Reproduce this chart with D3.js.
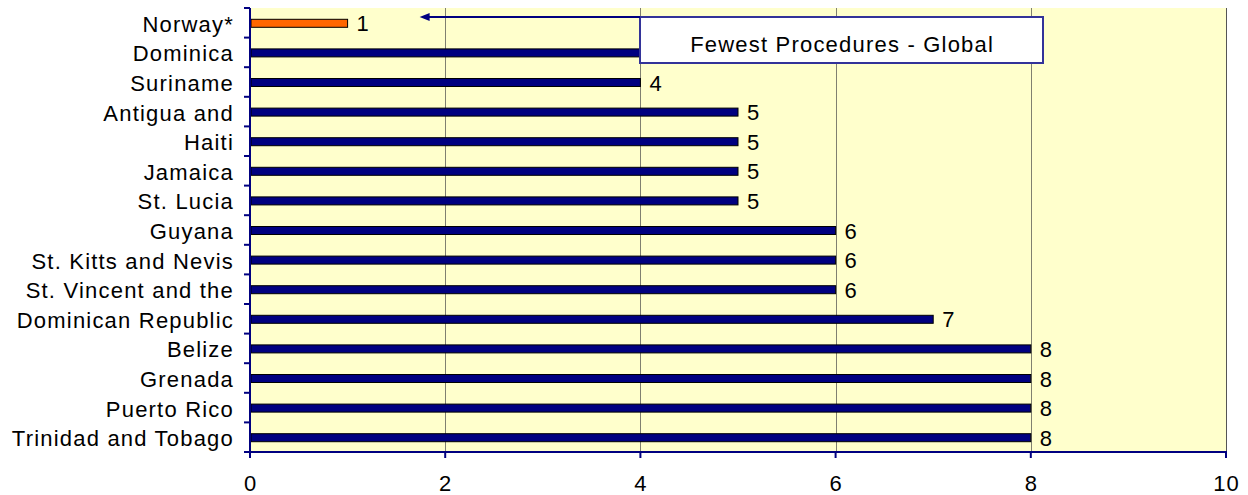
<!DOCTYPE html>
<html><head><meta charset="utf-8">
<script src="https://cdn.jsdelivr.net/npm/d3@7"></script>
<style>body{margin:0;background:#fff}svg{display:block}text{font-family:"Liberation Sans",Arial,sans-serif;}</style>
</head><body>
<script>
const countries = ["Norway*","Dominica","Suriname","Antigua and","Haiti","Jamaica","St. Lucia","Guyana","St. Kitts and Nevis","St. Vincent and the","Dominican Republic","Belize","Grenada","Puerto Rico","Trinidad and Tobago"];
const values = [1,4,4,5,5,5,5,6,6,6,7,8,8,8,8];
const xTicks = [0,2,4,6,8,10];
const highlight = "Norway*";
const annotation = "Fewest Procedures - Global";

const W=1248,H=495;
const m={left:250,right:22,top:8,bottom:43};
const svg=d3.select("body").append("svg").attr("width",W).attr("height",H);
const x=d3.scaleLinear().domain([0,10]).range([m.left,W-m.right]);
const y=d3.scaleBand().domain(countries).range([m.top,H-m.bottom]);
const FS=22, LS=1.2;

svg.append("rect").attr("x",x(0)).attr("y",m.top).attr("width",x(10)-x(0)).attr("height",y.range()[1]-m.top).attr("fill","#FFFFCC");
// grid
svg.append("g").selectAll("line").data(xTicks.filter(d=>d>0)).join("line")
 .attr("x1",d=>Math.round(x(d))+0.5).attr("x2",d=>Math.round(x(d))+0.5)
 .attr("y1",m.top).attr("y2",y.range()[1]).attr("stroke",d=>d===10?"#555":"#808070").attr("stroke-width",1);

// bars
const bh=8;
svg.append("g").selectAll("rect").data(countries).join("rect")
 .attr("x",x(0)+1).attr("y",d=>y(d)+y.bandwidth()/2-bh/2+0.5)
 .attr("width",(d,i)=>x(values[i])-x(0)-1).attr("height",bh)
 .attr("fill",d=>d===highlight?"#FF6600":"#000080")
 .attr("stroke","#000").attr("stroke-width",1);

// value labels
svg.append("g").selectAll("text").data(countries).join("text")
 .attr("x",(d,i)=>x(values[i])+9).attr("y",d=>y(d)+y.bandwidth()/2+8.5)
 .attr("font-size",FS).attr("letter-spacing",LS)
 .text((d,i)=>values[i]);

// y axis
const ya=svg.append("g").attr("transform",`translate(${x(0)},0)`);
ya.append("line").attr("x1",0).attr("x2",0).attr("y1",m.top).attr("y2",y.range()[1]+4).attr("stroke","#000080").attr("stroke-width",2);
ya.selectAll("line.t").data(d3.range(countries.length+1)).join("line").attr("class","t")
 .attr("x1",-6).attr("x2",0).attr("y1",i=>m.top+i*y.step()).attr("y2",i=>m.top+i*y.step()).attr("stroke","#000080").attr("stroke-width",2);
ya.selectAll("text").data(countries).join("text")
 .attr("x",-16).attr("y",d=>y(d)+y.bandwidth()/2+9)
 .attr("text-anchor","end")
 .attr("font-size",FS).attr("letter-spacing",LS).text(d=>d);

// x axis
const xa=svg.append("g").attr("transform",`translate(0,${y.range()[1]})`);
xa.append("line").attr("x1",x(0)-1).attr("x2",x(10)+1).attr("y1",0).attr("y2",0).attr("stroke","#000080").attr("stroke-width",2);
xa.selectAll("line.t").data(xTicks).join("line").attr("class","t")
 .attr("x1",d=>x(d)).attr("x2",d=>x(d)).attr("y1",0).attr("y2",6).attr("stroke","#000080").attr("stroke-width",2);
xa.selectAll("text").data(xTicks).join("text")
 .attr("x",d=>x(d)+LS/2).attr("y",38.5).attr("text-anchor","middle")
 .attr("font-size",FS).attr("letter-spacing",LS).text(d=>d);

// annotation
const bx=640,by=17,bw=403,bhh=46;
svg.append("rect").attr("x",bx).attr("y",by).attr("width",bw).attr("height",bhh).attr("fill","#fff").attr("stroke","#333399").attr("stroke-width",2);
svg.append("text").attr("x",bx+bw/2+LS/2).attr("y",by+35).attr("text-anchor","middle")
 .attr("font-size",FS).attr("letter-spacing",LS).text(annotation);
const ax=x(1)+72;
svg.append("line").attr("x1",bx).attr("x2",ax+8).attr("y1",by).attr("y2",by).attr("stroke","#000080").attr("stroke-width",2);
svg.append("path").attr("d",`M${ax},${by} l10,-4 l0,8 Z`).attr("fill","#000080");
</script>
</body></html>
